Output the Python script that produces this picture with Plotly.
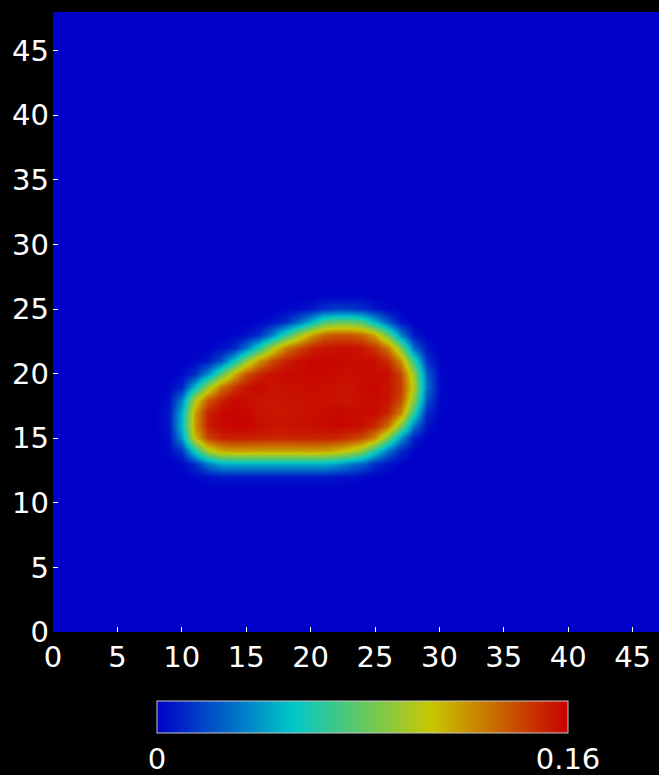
import plotly.graph_objects as go

# Grid point coordinates (data units) of the sampled field
x_centers = list(range(7, 32))   # 7 .. 31
y_centers = list(range(10, 28))  # 10 .. 27

# Field values, one row per y (bottom to top), columns x = 7..31
z_rows = [
    [0] * 25,  # y=10
    [0] * 25,  # y=11
    [0, 0, 0, 0, .002, .004, .006, .006, .006, .006, .006, .006, .006, .006, .006, .005, .004, .002, .001, 0, 0, 0, 0, 0, 0],  # y=12
    [0, 0, 0, .002, .012, .032, .045, .047, .047, .047, .047, .047, .047, .047, .047, .042, .033, .026, .011, .005, .001, 0, 0, 0, 0],  # y=13
    [0, 0, .002, .014, .058, .098, .114, .118, .118, .117, .117, .117, .117, .118, .117, .112, .103, .09, .06, .03, .01, .001, 0, 0, 0],  # y=14
    [0, 0, .004, .04, .11, .142, .151, .152, .152, .151, .15, .15, .151, .151, .151, .15, .146, .14, .123, .084, .039, .008, .001, 0, 0],  # y=15
    [0, 0, .006, .05, .12, .152, .158, .159, .159, .157, .155, .155, .156, .156, .157, .158, .157, .156, .149, .131, .086, .031, .005, 0, 0],  # y=16
    [0, 0, .006, .048, .118, .151, .158, .159, .158, .155, .154, .154, .155, .156, .157, .158, .157, .157, .157, .15, .125, .064, .011, .001, 0],  # y=17
    [0, 0, .004, .034, .1, .136, .151, .158, .156, .155, .154, .155, .155, .156, .156, .155, .154, .156, .157, .155, .14, .089, .022, .002, 0],  # y=18
    [0, 0, .001, .01, .05, .094, .128, .146, .155, .158, .155, .156, .156, .157, .156, .155, .155, .157, .158, .155, .145, .1, .03, .003, 0],  # y=19
    [0, 0, 0, .002, .012, .038, .075, .112, .138, .15, .156, .158, .157, .158, .158, .157, .156, .157, .157, .157, .141, .093, .025, .002, 0],  # y=20
    [0, 0, 0, 0, .002, .007, .022, .054, .09, .121, .14, .152, .156, .158, .158, .158, .157, .157, .156, .149, .123, .066, .013, .001, 0],  # y=21
    [0, 0, 0, 0, 0, 0, .004, .01, .03, .062, .097, .126, .14, .151, .155, .156, .156, .154, .147, .129, .086, .028, .005, 0, 0],  # y=22
    [0, 0, 0, 0, 0, 0, 0, .001, .004, .012, .034, .064, .092, .117, .134, .138, .137, .133, .116, .081, .034, .006, 0, 0, 0],  # y=23
    [0, 0, 0, 0, 0, 0, 0, 0, 0, .001, .005, .011, .027, .048, .073, .08, .08, .073, .049, .023, .005, 0, 0, 0, 0],  # y=24
    [0, 0, 0, 0, 0, 0, 0, 0, 0, 0, 0, .001, .003, .006, .013, .016, .016, .013, .006, .002, 0, 0, 0, 0, 0],  # y=25
    [0, 0, 0, 0, 0, 0, 0, 0, 0, 0, 0, 0, 0, 0, .001, .001, .001, .001, 0, 0, 0, 0, 0, 0, 0],  # y=26
    [0] * 25,  # y=27
]

axis_tick_values = [0, 5, 10, 15, 20, 25, 30, 35, 40, 45]
colorbar_tick_values = [0, 0.16]
colorbar_tick_text = ["0", "0.16"]
value_min, value_max = 0, 0.16

jet_like = [
    [0.0, "rgb(0,0,200)"],
    [0.333, "rgb(0,200,200)"],
    [0.667, "rgb(200,200,0)"],
    [1.0, "rgb(200,0,0)"],
]

font = dict(family="DejaVu Sans", size=29, color="white")

# plot area in pixels: left 53, top 12, width 606, height 620
fig = go.Figure(
    go.Heatmap(
        x=x_centers,
        y=y_centers,
        z=z_rows,
        zmin=value_min,
        zmax=value_max,
        zsmooth="best",
        colorscale=jet_like,
        hoverinfo="skip",
        colorbar=dict(
            orientation="h",
            lenmode="pixels",
            len=411,
            thicknessmode="pixels",
            thickness=32,
            x=(362.5 - 53) / 606,
            xanchor="center",
            y=(632 - 701) / 620,
            yanchor="top",
            xpad=0,
            ypad=0,
            outlinecolor="#c8c8c8",
            outlinewidth=1,
            tickvals=colorbar_tick_values,
            ticktext=colorbar_tick_text,
            ticks="",
            tickfont=font,
            ticklabelposition="outside bottom",
        ),
    )
)

axis_common = dict(
    tickvals=axis_tick_values,
    ticks="inside",
    ticklen=5,
    tickwidth=1,
    tickcolor="white",
    showgrid=False,
    zeroline=False,
    showline=False,
    tickfont=font,
    automargin=False,
    fixedrange=True,
)

fig.update_layout(
    template="none",
    width=659,
    height=775,
    margin=dict(l=53, r=0, t=12, b=143, pad=0),
    paper_bgcolor="black",
    plot_bgcolor="rgb(0,0,200)",
    xaxis=dict(range=[0, 47.05], ticklabelstandoff=5, **axis_common),
    yaxis=dict(range=[0, 48], ticklabelstandoff=3, **axis_common),
    showlegend=False,
)

fig.write_html(
    "out.html",
    config={"displayModeBar": False},
    post_script="document.body.style.margin='0';document.body.style.overflow='hidden';",
)
